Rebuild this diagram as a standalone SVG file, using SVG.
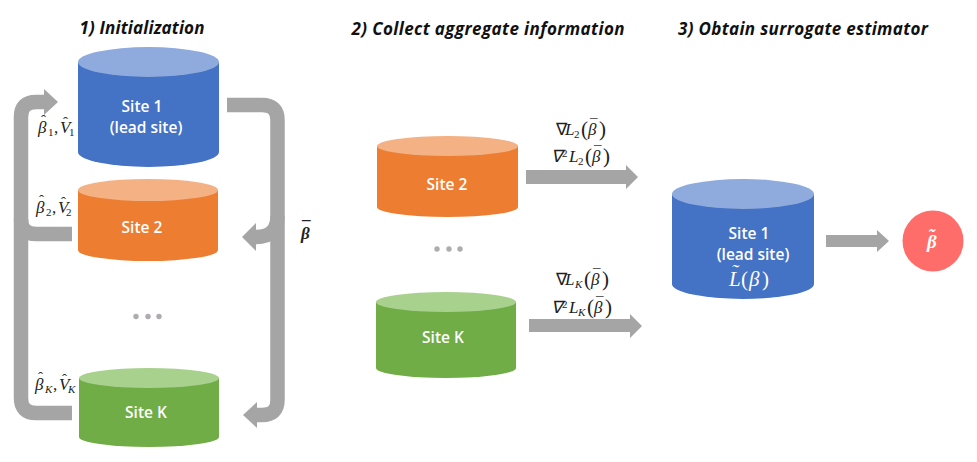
<svg xmlns="http://www.w3.org/2000/svg" width="977" height="462" viewBox="0 0 977 462">
<style>
.t{font-family:"Open Sans","Liberation Sans",sans-serif;font-weight:700;font-style:italic;font-size:17px;fill:#111;text-anchor:middle}
.l{font-family:"Open Sans","Liberation Sans",sans-serif;font-weight:600;font-size:15.500px;fill:#fff;text-anchor:middle}
.m{font-family:"Liberation Serif",serif;font-style:italic;font-size:17px;fill:#222}
.s{font-size:11px;font-style:normal}
.k{font-size:11px}
.p{font-style:normal;font-size:21px}
.n{font-style:normal}
.a{font-style:normal;font-size:15px}
.b{fill:#4472c4}.bt{fill:#8faadc}.o{fill:#ed7d31}.ot{fill:#f4b183}.g{fill:#70ad47}.gt{fill:#a9d18e}
.c{fill:none;stroke:#a5a5a5;stroke-width:14.500}
.h{fill:#a5a5a5}
.d{fill:#aeacae}
</style>
<rect width="977" height="462" fill="#fff"/>
<g id="titles">
<text class="t" x="142" y="34" textLength="125">1) Initialization</text>
<text class="t" x="488" y="35" textLength="273">2) Collect aggregate information</text>
<text class="t" x="803" y="35" textLength="250">3) Obtain surrogate estimator</text>
</g>
<g id="connectors">
<path class="c" d="M227 105H262Q277.500 105 277.500 120V400Q277.500 415 262 415H256"/>
<path class="c" d="M277.500 216Q277.500 237 256 237"/>
<polygon class="h" points="242,237 256,223 256,251"/>
<polygon class="h" points="243,415 257,402 257,428"/>
<path class="c" d="M72 413H36Q21 413 21 398V117Q21 102 36 102H46"/>
<path class="c" d="M72 234H36Q21 234 21 219"/>
<polygon class="h" points="58,102 44,89 44,115"/>
<polygon class="h" points="526,170 626,170 626,165 638,177 626,189 626,184 526,184"/>
<polygon class="h" points="529,319 630,319 630,314 642,326 630,338 630,332 529,332"/>
<polygon class="h" points="826,235 877,235 877,230 889,241 877,252 877,247 826,247"/>
</g>
<g id="site1-init">
<path class="b" d="M78 62V152A70.500 15 0 0 0 219 152V62Z"/><ellipse class="bt" cx="148.500" cy="62" rx="70.500" ry="15"/>
<text class="l" x="142" y="112">Site 1</text><text class="l" x="146" y="133">(lead site)</text>
</g>
<g id="site2-init">
<path class="o" d="M78 190V250A70 11 0 0 0 218 250V190Z"/><ellipse class="ot" cx="148" cy="190" rx="70" ry="11"/>
<text class="l" x="142" y="233">Site 2</text>
</g>
<g id="siteK-init">
<path class="g" d="M79 378V437A70 10 0 0 0 219 437V378Z"/><ellipse class="gt" cx="149" cy="378" rx="70" ry="10"/>
<text class="l" x="146" y="418">Site K</text>
</g>
<g id="dots-init"><circle class="d" cx="136" cy="316.500" r="2.700"/><circle class="d" cx="148" cy="316.500" r="2.700"/><circle class="d" cx="159" cy="316.500" r="2.700"/></g>
<g id="site2-collect">
<path class="o" d="M377 146V207A70.500 10 0 0 0 518 207V146Z"/><ellipse class="ot" cx="447.500" cy="146" rx="70.500" ry="10"/>
<text class="l" x="447" y="190">Site 2</text>
</g>
<g id="dots-collect"><circle class="d" cx="437" cy="249" r="2.700"/><circle class="d" cx="449" cy="249" r="2.700"/><circle class="d" cx="460" cy="249" r="2.700"/></g>
<g id="siteK-collect">
<path class="g" d="M376 302V368A70 10 0 0 0 516 368V302Z"/><ellipse class="gt" cx="446" cy="302" rx="70" ry="10"/>
<text class="l" x="443" y="343">Site K</text>
</g>
<g id="site1-final">
<path class="b" d="M672 194V284A71 15 0 0 0 814 284V194Z"/><ellipse class="bt" cx="743" cy="194" rx="71" ry="15"/>
<text class="l" x="749" y="239">Site 1</text><text class="l" x="753" y="260">(lead site)</text>
<text class="m" style="fill:#fff;font-size:21px"><tspan x="729" y="286">L</tspan><tspan x="731" y="279">˜</tspan><tspan class="n" x="741" y="286">(</tspan><tspan x="749">β</tspan><tspan class="n" x="762">)</tspan></text>
</g>
<g id="result"><circle cx="933" cy="241" r="30.500" fill="#ff6d6a"/><text class="m" style="font-size:19px;fill:#fff;font-weight:700"><tspan x="927" y="248">β</tspan><tspan x="928" y="242">˜</tspan></text></g>
<g id="math">
<text class="m"><tspan x="38" y="133">β</tspan><tspan class="a" x="41" y="125">ˆ</tspan><tspan class="s" x="48" y="136">1</tspan><tspan class="n" x="54" y="133">,</tspan><tspan x="60">V</tspan><tspan class="a" x="63" y="127">ˆ</tspan><tspan class="s" x="69" y="136">1</tspan></text>
<text class="m"><tspan x="36" y="213">β</tspan><tspan class="a" x="39" y="205">ˆ</tspan><tspan class="s" x="46" y="216">2</tspan><tspan class="n" x="52" y="213">,</tspan><tspan x="58">V</tspan><tspan class="a" x="61" y="207">ˆ</tspan><tspan class="s" x="66" y="216">2</tspan></text>
<text class="m"><tspan x="35" y="390">β</tspan><tspan class="a" x="38" y="382">ˆ</tspan><tspan class="k" x="45" y="393">K</tspan><tspan class="n" x="53" y="390">,</tspan><tspan x="59">V</tspan><tspan class="a" x="62" y="384">ˆ</tspan><tspan class="k" x="68" y="393">K</tspan></text>
<text class="m" style="font-weight:700"><tspan x="301" y="239">β</tspan><tspan class="n" x="302" y="233">¯</tspan></text>
<text class="m"><tspan class="n" x="556" y="135">∇</tspan><tspan x="565">L</tspan><tspan class="s" x="574" y="138">2</tspan><tspan class="p" x="581" y="136">(</tspan><tspan x="588" y="135">β</tspan><tspan class="a" x="590" y="129">¯</tspan><tspan class="p" x="599" y="136">)</tspan></text>
<text class="m"><tspan x="551" y="162">∇</tspan><tspan class="s" x="562" y="157">2</tspan><tspan x="569" y="162">L</tspan><tspan class="s" x="578" y="165">2</tspan><tspan class="p" x="585" y="163">(</tspan><tspan x="592" y="162">β</tspan><tspan class="a" x="594" y="156">¯</tspan><tspan class="p" x="603" y="163">)</tspan></text>
<text class="m"><tspan class="n" x="556" y="285">∇</tspan><tspan x="565">L</tspan><tspan class="k" x="575" y="288">K</tspan><tspan class="p" x="584" y="286">(</tspan><tspan x="591" y="285">β</tspan><tspan class="a" x="593" y="279">¯</tspan><tspan class="p" x="602" y="286">)</tspan></text>
<text class="m"><tspan x="551" y="313">∇</tspan><tspan class="s" x="562" y="308">2</tspan><tspan x="569" y="313">L</tspan><tspan class="k" x="578" y="316">K</tspan><tspan class="p" x="587" y="314">(</tspan><tspan x="594" y="313">β</tspan><tspan class="a" x="596" y="307">¯</tspan><tspan class="p" x="605" y="314">)</tspan></text>
</g>
</svg>
